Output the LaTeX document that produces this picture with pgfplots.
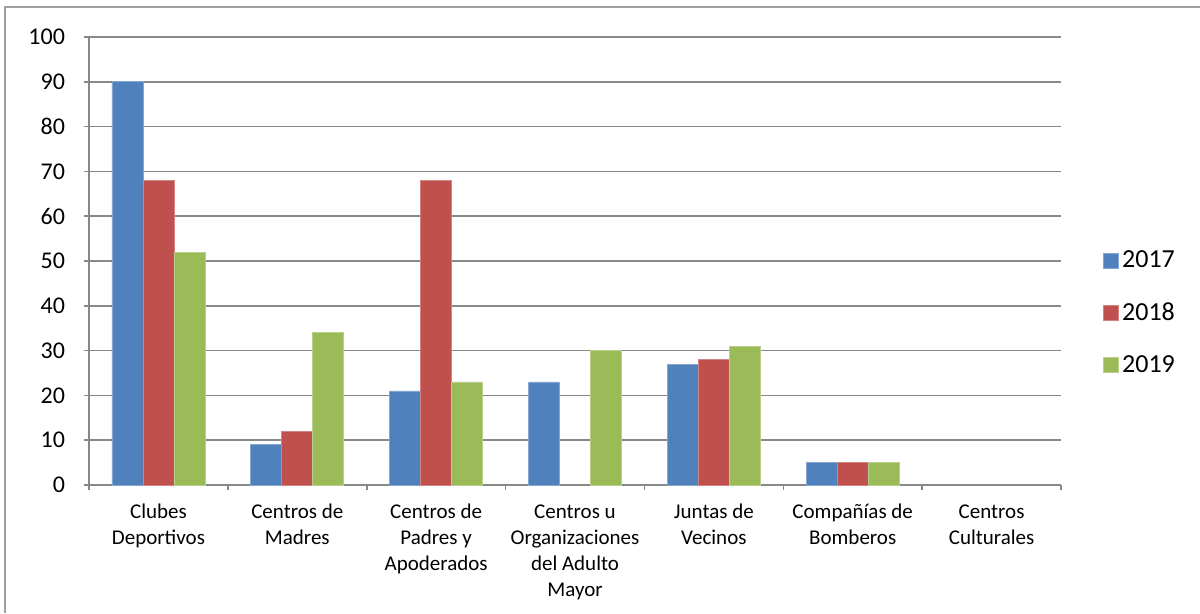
\documentclass[border=0pt]{standalone}
\usepackage{pgfplots}
\pgfplotsset{compat=1.18}
\usepackage{fontspec}
\setmainfont{Carlito}
\definecolor{b17}{HTML}{4F81BD}
\definecolor{r18}{HTML}{C0504D}
\definecolor{g19}{HTML}{9BBB59}
\definecolor{gridc}{HTML}{888888}
\begin{document}
\begin{tikzpicture}[x=1bp,y=1bp]
\path[use as bounding box] (0,0) rectangle (600,306.5);
\draw[gridc!80, line width=0.6bp] (2.5,0) -- (2.5,303) -- (600,303);
\begin{axis}[
  at={(44.5bp,64bp)}, anchor=south west,
  scale only axis, width=486bp, height=224bp,
  ybar=0pt, bar width=15.5bp,
  xmin=-0.5, xmax=6.5, ymin=0, ymax=100,
  ytick={0,10,...,100},
  xtick={0,...,6},
  xticklabels={{Clubes\\Deportivos},{Centros de\\Madres},{Centros de\\Padres y\\Apoderados},{Centros u\\Organizaciones\\del Adulto\\Mayor},{Juntas de\\Vecinos},{Compañías de\\Bomberos},{Centros\\Culturales}},
  xticklabel style={align=center, font=\fontsize{10.5bp}{13bp}\selectfont, anchor=north, yshift=-7bp, inner sep=0pt},
  yticklabel style={font=\fontsize{12bp}{14bp}\selectfont, text=black, xshift=-6bp},
  /pgf/number format/assume math mode=true,
  major x tick style={draw=none},
  minor xtick={-0.5,0.5,...,6.5},
  tick align=outside,
  major tick length=2.5bp, minor tick length=2.5bp,
  tick style={gridc, line width=0.8bp},
  ymajorgrids, grid style={gridc, line width=0.8bp},
  axis x line*=bottom, axis y line*=left,
  axis line style={gridc, line width=0.8bp},
  legend style={draw=none, fill=none, at={(1,0.384)}, anchor=west, xshift=18bp,
    font=\fontsize{13bp}{15bp}\selectfont, row sep=13bp,
    nodes={inner sep=1.5bp}},
  legend cell align=left,
  legend image code/.code={\fill[#1] (0,-3.75bp) rectangle (7.5bp,3.75bp);},
]
\addplot[fill=b17, draw=b17!70!white, line width=0.4bp] coordinates {(0,90) (1,9) (2,21) (3,23) (4,27) (5,5)};
\addplot[fill=r18, draw=r18!70!white, line width=0.4bp] coordinates {(0,68) (1,12) (2,68) (4,28) (5,5)};
\addplot[fill=g19, draw=g19!70!white, line width=0.4bp] coordinates {(0,52) (1,34) (2,23) (3,30) (4,31) (5,5)};
\legend{2017,2018,2019}
\end{axis}
\end{tikzpicture}
\end{document}
